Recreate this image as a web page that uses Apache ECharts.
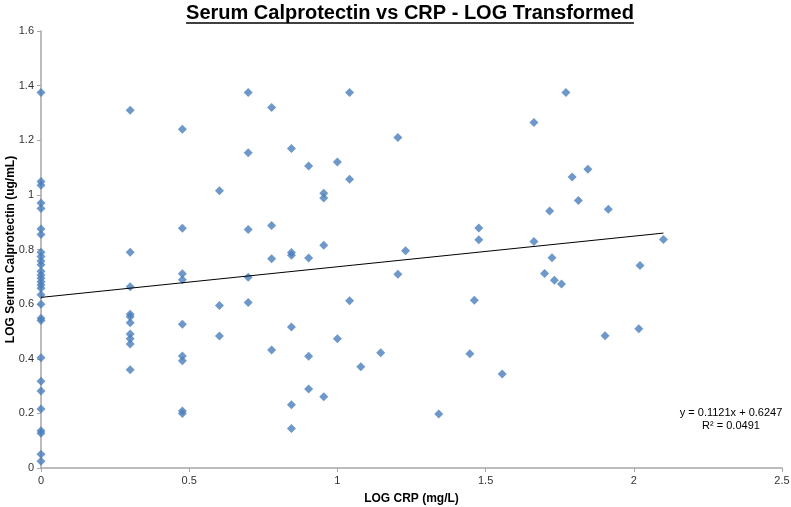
<!DOCTYPE html>
<html>
<head>
<meta charset="utf-8">
<script src="https://cdn.jsdelivr.net/npm/echarts@6/dist/echarts.min.js"></script>
<style>
  html, body { margin: 0; padding: 0; background: #fff; }
  #chart { width: 791px; height: 507px; }
</style>
</head>
<body>
<div id="chart"></div>
<script>
// LOG CRP (x) and LOG serum calprotectin (y), paired by index
const crpLog = [
  0, 0, 0, 0, 0, 0, 0, 0, 0, 0, 0, 0, 0, 0, 0, 0, 0, 0, 0, 0, 0, 0, 0, 0, 0, 0, 0, 0, 0,
  0.301, 0.301, 0.301, 0.301, 0.301, 0.301, 0.301, 0.301, 0.301, 0.301,
  0.477, 0.477, 0.477, 0.477, 0.477, 0.477, 0.477, 0.477, 0.477,
  0.602, 0.602, 0.602,
  0.699, 0.699, 0.699, 0.699, 0.699,
  0.778, 0.778, 0.778, 0.778,
  0.845, 0.845, 0.845, 0.845, 0.845, 0.845,
  0.903, 0.903, 0.903, 0.903,
  0.954, 0.954, 0.954, 0.954,
  1.0, 1.0,
  1.041, 1.041, 1.041,
  1.079, 1.146, 1.204, 1.204, 1.230, 1.342, 1.447, 1.462, 1.477, 1.477, 1.556,
  1.663, 1.663, 1.699, 1.716, 1.724, 1.732, 1.756, 1.771, 1.792, 1.813, 1.845,
  1.903, 1.914, 2.017, 2.021, 2.100
]
const calprotectinLog = [
  1.375, 1.049, 1.035, 0.970, 0.950, 0.875, 0.855, 0.790, 0.774, 0.758, 0.744, 0.720, 0.707, 0.695, 0.682,
  0.670, 0.658, 0.634, 0.600, 0.548, 0.540, 0.404, 0.318, 0.282, 0.216, 0.136, 0.127, 0.050, 0.025,
  1.310, 0.790, 0.664, 0.563, 0.554, 0.532, 0.491, 0.473, 0.454, 0.360,
  1.240, 0.878, 0.711, 0.689, 0.526, 0.410, 0.393, 0.209, 0.200,
  1.015, 0.595, 0.483,
  1.375, 1.154, 0.873, 0.698, 0.606,
  1.320, 0.888, 0.766, 0.432,
  1.170, 0.789, 0.779, 0.516, 0.232, 0.145,
  1.106, 0.769, 0.409, 0.289,
  1.006, 0.989, 0.816, 0.261,
  1.120, 0.473,
  1.375, 1.057, 0.612,
  0.371, 0.422, 1.210, 0.709, 0.795, 0.198, 0.418, 0.614, 0.879, 0.836, 0.344,
  1.265, 0.829, 0.712, 0.941, 0.770, 0.687, 0.674, 1.375, 1.065, 0.979, 1.094,
  0.484, 0.947, 0.510, 0.741, 0.837
]

// linear trendline ends (y = 0.1121x + 0.6247)
const trendX = [0, 2.1]
const trendY = [0.6247, 0.8601]

const xTicks = { min: 0, max: 2.5, interval: 0.5 }
const yTicks = { min: 0, max: 1.6, interval: 0.2 }

const TITLE = 'Serum Calprotectin vs CRP - LOG Transformed'
const MARKER_COLOR = '#4a7ebb'
const AXIS_COLOR = '#a6a6a6'
const FONT = '"Liberation Sans", Arial, sans-serif'
const TITLE_FONT = 'bold 20px ' + FONT

const points = crpLog.map((x, i) => [x, calprotectinLog[i]])
const trend = trendX.map((x, i) => [x, trendY[i]])

// measure title so the underline fits it
const ctx = document.createElement('canvas').getContext('2d')
ctx.font = TITLE_FONT
const titleW = ctx.measureText(TITLE).width
const titleCx = 410

const chart = echarts.init(document.getElementById('chart'))

const axisCommon = {
  axisLine: { show: true, onZero: false, lineStyle: { color: AXIS_COLOR, width: 1.5 } },
  axisTick: { show: true, inside: false, length: 4, lineStyle: { color: AXIS_COLOR } },
  axisLabel: { color: '#333', fontFamily: FONT, fontSize: 11, margin: 7 },
  splitLine: { show: false },
  nameMoveOverlap: false,
  nameTextStyle: { color: '#000', fontFamily: FONT, fontSize: 12, fontWeight: 'bold' }
}

chart.setOption({
  animation: false,
  backgroundColor: '#fff',
  grid: { left: 41, right: 9, top: 31, bottom: 39, containLabel: false, outerBoundsMode: 'none' },
  xAxis: Object.assign({}, axisCommon, {
    type: 'value',
    min: xTicks.min, max: xTicks.max, interval: xTicks.interval,
    name: 'LOG CRP (mg/L)',
    nameLocation: 'middle',
    nameGap: 25
  }),
  yAxis: Object.assign({}, axisCommon, {
    type: 'value',
    min: yTicks.min, max: yTicks.max, interval: yTicks.interval,
    name: 'LOG Serum Calprotectin (ug/mL)',
    nameLocation: 'middle',
    nameGap: 24
  }),
  series: [
    {
      type: 'scatter',
      symbol: 'diamond',
      symbolSize: 9,
      itemStyle: { color: MARKER_COLOR },
      data: points,
      z: 3
    },
    {
      type: 'line',
      data: trend,
      symbol: 'none',
      lineStyle: { color: '#000', width: 1 },
      z: 4
    }
  ],
  graphic: [
    {
      type: 'text',
      left: titleCx - titleW / 2,
      top: 3,
      style: { text: TITLE, font: TITLE_FONT, fill: '#000' }
    },
    {
      type: 'line',
      shape: { x1: titleCx - titleW / 2, y1: 23, x2: titleCx + titleW / 2, y2: 23 },
      style: { stroke: '#000', lineWidth: 1.5 }
    },
    {
      type: 'text',
      x: 731,
      y: 406,
      style: {
        text: 'y = 0.1121x + 0.6247\nR² = 0.0491',
        font: '11px ' + FONT,
        fill: '#000',
        align: 'center',
        lineHeight: 13
      }
    }
  ]
})
</script>
</body>
</html>
